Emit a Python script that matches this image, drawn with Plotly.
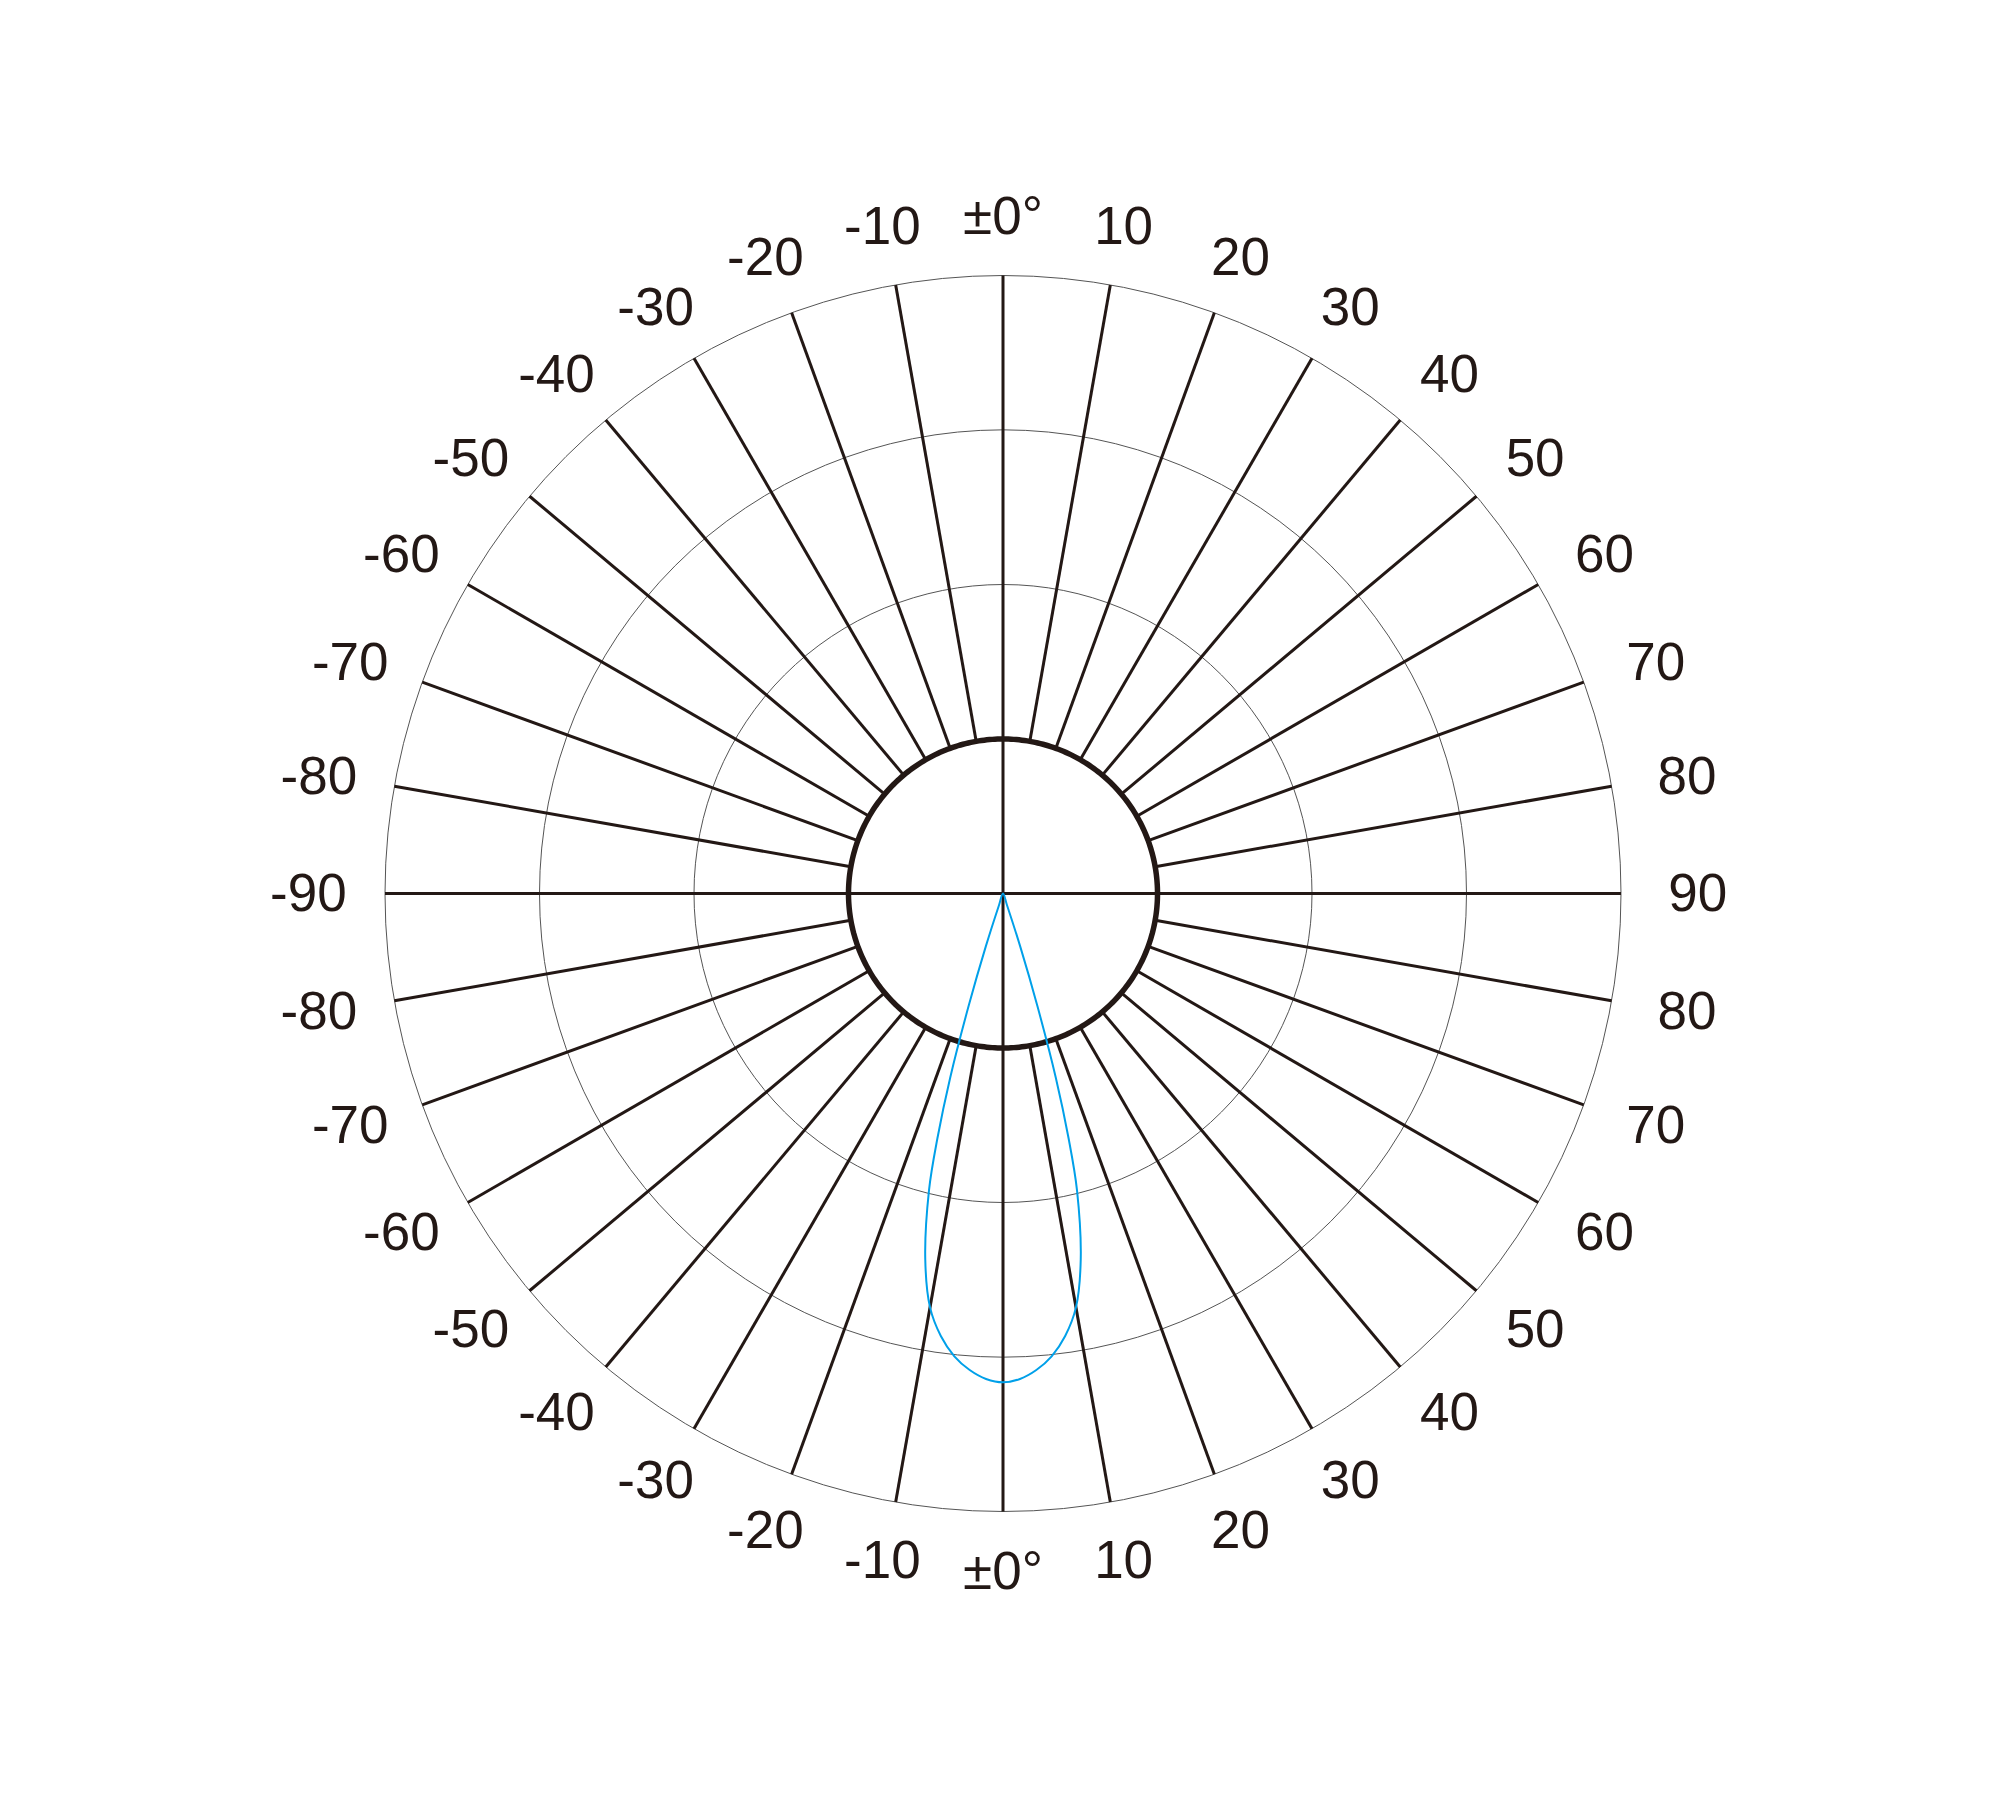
import plotly.graph_objects as go
import numpy as np

# Tick labels around the dial (clockwise from top)
tick_angles = list(range(0, 360, 10))
tick_labels = (["±0°"] + [str(v) for v in range(10, 100, 10)] + [str(v) for v in range(80, 0, -10)]
               + ["±0°"] + [str(-v) for v in range(10, 100, 10)] + [str(-v) for v in range(80, 0, -10)])

# Grid rings (relative intensity %)
ring_values = [25, 50, 75, 100]
inner_ring = 25
outer_ring = 100
axis_max = 116

# Light distribution curve: angle from nadir (deg) vs relative intensity
beam_angles = [-20, -19, -18, -17, -16, -15, -14, -12, -10, -8, -6, -4, -2, 0,
               2, 4, 6, 8, 10, 12, 14, 15, 16, 17, 18, 19, 20]
beam_values = [0, 2, 9, 19, 31, 41, 49.5, 60.5, 68, 72.3, 75.3, 77.3, 78.6, 79.1,
               78.6, 77.3, 75.3, 72.3, 68, 60.5, 49.5, 41, 31, 19, 9, 2, 0]

INK = "#231815"

fig = go.Figure()

# radial spokes
r_sp, t_sp = [], []
for a in tick_angles:
    start = 0 if a % 90 == 0 else inner_ring
    r_sp += [start, outer_ring, None]
    t_sp += [a, a, None]
fig.add_trace(go.Scatterpolar(r=r_sp, theta=t_sp, mode="lines",
                              line=dict(color=INK, width=3), hoverinfo="skip"))

# inner thick circle
circ_t = list(np.linspace(0, 360, 361))
fig.add_trace(go.Scatterpolar(r=[inner_ring] * len(circ_t), theta=circ_t, mode="lines",
                              line=dict(color=INK, width=5.5), hoverinfo="skip"))

# beam curve (measured downward: theta = 180 + angle)
fig.add_trace(go.Scatterpolar(r=beam_values, theta=[180 + a for a in beam_angles],
                              mode="lines", line=dict(color="#00a0e9", width=2, shape="spline"),
                              hoverinfo="skip"))

# angle labels placed on a slightly elliptical ring outside the dial
lab_a, lab_b, lab_dy = 112.4, 109.63, -0.73
th = np.radians(tick_angles)
lx = lab_a * np.sin(th)
ly = lab_b * np.cos(th) + lab_dy
lab_r = np.hypot(lx, ly)
lab_t = np.degrees(np.arctan2(lx, ly))
fig.add_trace(go.Scatterpolar(r=lab_r, theta=lab_t,
                              mode="text", text=tick_labels, textposition="middle center",
                              textfont=dict(size=53, color=INK,
                                            family="Liberation Sans, Arial, sans-serif"),
                              cliponaxis=False, hoverinfo="skip"))

W, H = 2000, 1796
cx, cy = 995, 885.5
R = 618 * axis_max / outer_ring
fig.update_layout(
    width=W, height=H, showlegend=False,
    paper_bgcolor="white", plot_bgcolor="white",
    margin=dict(l=0, r=0, t=0, b=0),
    font=dict(family="Liberation Sans, Arial, sans-serif", color=INK, size=53),
    polar=dict(
        domain=dict(x=[(cx - R) / W, (cx + R) / W], y=[(H - cy - R) / H, (H - cy + R) / H]),
        bgcolor="white",
        radialaxis=dict(range=[0, axis_max], tickvals=ring_values, showticklabels=False,
                        ticks="", showline=False, showgrid=True, gridcolor="#555555", gridwidth=1.4),
        angularaxis=dict(rotation=90, direction="clockwise", tickvals=tick_angles,
                         showticklabels=False, showgrid=False, showline=False, ticks=""),
    ),
)

fig.write_html("out.html")
